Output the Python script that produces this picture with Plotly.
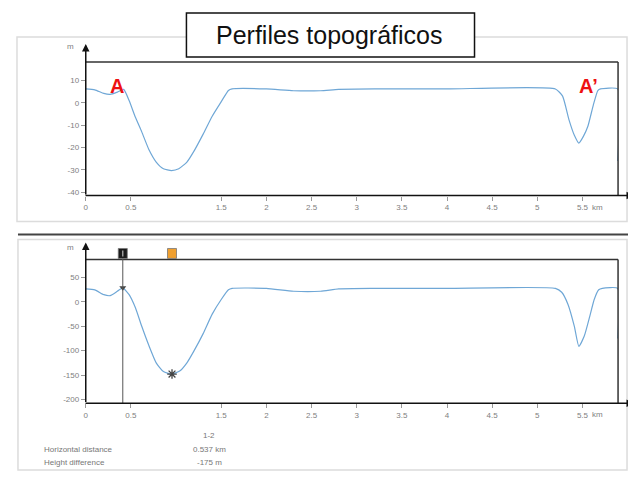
import plotly.graph_objects as go

# ---------------- data ----------------
dist_top_km = [0.00, 0.10, 0.20, 0.27, 0.35, 0.42, 0.48, 0.55, 0.62, 0.70, 0.78, 0.86, 0.95,
               1.03, 1.12, 1.20, 1.30, 1.40, 1.50, 1.58, 1.62, 2.00, 2.30, 2.60, 2.80, 3.20,
               4.00, 5.20, 5.28, 5.35, 5.41, 5.46, 5.51, 5.56, 5.62, 5.67, 5.70, 5.89, 5.89]
elev_top_m = [6.2, 5.8, 4.2, 3.8, 4.8, 6.0, 1.0, -6.5, -13.0, -21.0, -26.5, -29.5, -30.3,
              -29.5, -26.5, -21.5, -14.0, -6.0, 0.5, 5.5, 6.2, 6.2, 5.4, 5.4, 6.0, 6.2,
              6.2, 6.2, 3.0, -7.5, -14.5, -18.0, -15.0, -10.5, -1.0, 5.5, 6.2, 6.2, -26.0]

dist_bot_km = [0.00, 0.10, 0.20, 0.27, 0.35, 0.41, 0.48, 0.55, 0.62, 0.70, 0.78, 0.86, 0.95,
               1.04, 1.12, 1.20, 1.30, 1.40, 1.50, 1.58, 1.62, 2.00, 2.30, 2.60, 2.80, 3.20,
               4.00, 5.20, 5.27, 5.34, 5.41, 5.46, 5.52, 5.58, 5.63, 5.68, 5.72, 5.89, 5.89]
elev_bot_m = [27, 25, 15, 13, 22, 29, 15, -12, -50, -90, -125, -143, -148,
              -142, -125, -100, -65, -25, 5, 25, 28, 28, 22, 22, 27, 28,
              28, 28, 20, -5, -50, -91, -70, -30, 5, 25, 28, 28, -75]

x_tick_vals = [0, 0.5, 1.5, 2, 2.5, 3, 3.5, 4, 4.5, 5, 5.5]
x_tick_text = ["0", "0.5", "1.5", "2", "2.5", "3", "3.5", "4", "4.5", "5", "5.5"]
y_top_ticks = [10, 0, -10, -20, -30, -40]
y_bot_ticks = [50, 0, -50, -100, -150, -200]

cursor_km = [0.41, 0.955]
cursor_elev = [29, -148]
cursor_colors = ["#1a1a1a", "#f0a030"]
summary_labels = ["Horizontal distance", "Height difference"]
summary_values = ["0.537 km", "-175 m"]

# ---------------- layout helpers ----------------
# page body has an 8px margin: the figure is placed at (8, 8) in the window
OFF = 8
W, H = 636 - OFF, 477 - OFF

def px(x):
    return (x - OFF) / W

def py(y):
    return 1 - (y - OFF) / H

X0, X1 = 84, 618
KM_PER_PX = 1 / 90.6
x_range = [0, (X1 - X0) * KM_PER_PX]

TOP_T, TOP_B = 62, 196
BOT_T, BOT_B = 260, 404

line_col = "#6fa7d6"
tick_font = dict(family="Liberation Sans, Arial", size=8, color="#808080")

fig = go.Figure()

fig.add_trace(go.Scatter(x=dist_top_km, y=elev_top_m, mode="lines",
                         line=dict(color=line_col, width=1.2, shape="spline", smoothing=0.5),
                         xaxis="x", yaxis="y", showlegend=False, hoverinfo="skip"))
fig.add_trace(go.Scatter(x=dist_bot_km, y=elev_bot_m, mode="lines",
                         line=dict(color=line_col, width=1.2, shape="spline", smoothing=0.5),
                         xaxis="x2", yaxis="y2", showlegend=False, hoverinfo="skip"))

# cursor markers on the profile (bottom panel)
fig.add_trace(go.Scatter(x=[cursor_km[0]], y=[cursor_elev[0]], mode="markers",
                         marker=dict(symbol="triangle-down", size=6, color="#444"),
                         xaxis="x2", yaxis="y2", cliponaxis=False, showlegend=False))
fig.add_trace(go.Scatter(x=[cursor_km[1]], y=[cursor_elev[1]], mode="markers",
                         marker=dict(symbol="asterisk-open", size=8, color="#444",
                                     line=dict(color="#444", width=1.3)),
                         xaxis="x2", yaxis="y2", cliponaxis=False, showlegend=False))

axis_common = dict(showgrid=False, zeroline=False, showline=False, ticks="outside",
                   ticklen=4, tickcolor="#999", tickfont=tick_font, fixedrange=True)

fig.update_layout(
    width=W, height=H, margin=dict(l=0, r=0, t=0, b=0),
    paper_bgcolor="white", plot_bgcolor="white", showlegend=False,
    xaxis=dict(domain=[px(X0), px(X1)], range=x_range, anchor="y",
               tickvals=x_tick_vals, ticktext=x_tick_text, **axis_common),
    yaxis=dict(domain=[py(TOP_B), py(TOP_T)], range=[-41.5, 18.3], anchor="x",
               tickvals=y_top_ticks, ticktext=[str(v) for v in y_top_ticks], **axis_common),
    xaxis2=dict(domain=[px(X0), px(X1)], range=x_range, anchor="y2",
                tickvals=x_tick_vals, ticktext=x_tick_text, **axis_common),
    yaxis2=dict(domain=[py(BOT_B), py(BOT_T)], range=[-207.8, 87.3], anchor="x2",
                tickvals=y_bot_ticks, ticktext=[str(v) for v in y_bot_ticks], **axis_common),
)

shapes = []
def pline(x0, y0, x1, y1, color, width):
    shapes.append(dict(type="line", xref="paper", yref="paper",
                       x0=px(x0), y0=py(y0), x1=px(x1), y1=py(y1),
                       line=dict(color=color, width=width)))

# panel frames
shapes.append(dict(type="rect", xref="paper", yref="paper", x0=px(15), y0=py(222), x1=px(627), y1=py(37),
                   line=dict(color="#dcdcdc", width=1.5), fillcolor="rgba(0,0,0,0)"))
shapes.append(dict(type="rect", xref="paper", yref="paper", x0=px(16), y0=py(471), x1=px(627), y1=py(240),
                   line=dict(color="#dcdcdc", width=1.5), fillcolor="rgba(0,0,0,0)"))
pline(16, 235, 636, 235, "#444", 2)

# plot boxes
for t, b in [(TOP_T, TOP_B), (BOT_T, BOT_B)]:
    pline(X0, t, X1, t, "#333", 1.5)
    pline(X1, t, X1, b, "#333", 1.5)

# cursor vertical line
shapes.append(dict(type="line", xref="x2", yref="paper", x0=cursor_km[0], x1=cursor_km[0],
                   y0=py(BOT_B), y1=py(254), line=dict(color="#555", width=1)))
# cursor handles above the plot box
for ck, cc in zip(cursor_km, cursor_colors):
    shapes.append(dict(type="rect", xref="x2", yref="paper", xsizemode="pixel", xanchor=ck,
                       x0=-4.5, x1=4.5, y0=py(259), y1=py(249),
                       line=dict(color="#777", width=0.8), fillcolor=cc))
shapes.append(dict(type="line", xref="x2", yref="paper", x0=cursor_km[0], x1=cursor_km[0],
                   y0=py(257), y1=py(251), line=dict(color="#bbb", width=1.2)))

# title box
shapes.append(dict(type="rect", xref="paper", yref="paper", x0=px(185), y0=py(57), x1=px(474), y1=py(13),
                   line=dict(color="#111", width=1.5), fillcolor="white"))
fig.update_layout(shapes=shapes)

ann = []
# axis arrows
for b, top in [(TOP_B, 44), (BOT_B, 243)]:
    ann.append(dict(xref="paper", yref="paper", x=px(634), y=py(b), ax=-(634 - X0), ay=0,
                    text="", showarrow=True, arrowhead=2, arrowsize=1, arrowwidth=1.5, arrowcolor="#111"))
    ann.append(dict(xref="paper", yref="paper", x=px(X0), y=py(top), ax=0, ay=(b - top),
                    text="", showarrow=True, arrowhead=2, arrowsize=1, arrowwidth=1.5, arrowcolor="#111"))
# units
for yy in (47, 248):
    ann.append(dict(xref="paper", yref="paper", x=px(74), y=py(yy), text="m", showarrow=False,
                    xanchor="right", yanchor="middle", font=tick_font))
for yy in (208, 415):
    ann.append(dict(xref="paper", yref="paper", x=px(590), y=py(yy), text="km", showarrow=False,
                    xanchor="left", yanchor="middle", font=tick_font))

ann.append(dict(xref="paper", yref="paper", x=px(329), y=py(35), text="Perfiles topográficos",
                showarrow=False, xanchor="center", yanchor="middle",
                font=dict(family="Liberation Sans, Arial", size=25, color="#111")))
ann.append(dict(xref="paper", yref="paper", x=px(115), y=py(86), text="<b>A</b>", showarrow=False,
                xanchor="center", yanchor="middle",
                font=dict(family="Liberation Sans, Arial", size=20, color="#ee1111")))
ann.append(dict(xref="paper", yref="paper", x=px(588), y=py(86), text="<b>A’</b>", showarrow=False,
                xanchor="center", yanchor="middle",
                font=dict(family="Liberation Sans, Arial", size=20, color="#ee1111")))

# summary table
small = dict(family="Liberation Sans, Arial", size=8, color="#777")
ann.append(dict(xref="paper", yref="paper", x=px(208), y=py(436), text="1-2", showarrow=False,
                xanchor="center", yanchor="middle", font=small))
for i, (lab, val) in enumerate(zip(summary_labels, summary_values)):
    yy = 450 + 13 * i
    ann.append(dict(xref="paper", yref="paper", x=px(40), y=py(yy), text=lab, showarrow=False,
                    xanchor="left", yanchor="middle", font=small))
    ann.append(dict(xref="paper", yref="paper", x=px(208), y=py(yy), text=val, showarrow=False,
                    xanchor="center", yanchor="middle", font=small))
fig.update_layout(annotations=ann)

fig.write_html("out.html")
